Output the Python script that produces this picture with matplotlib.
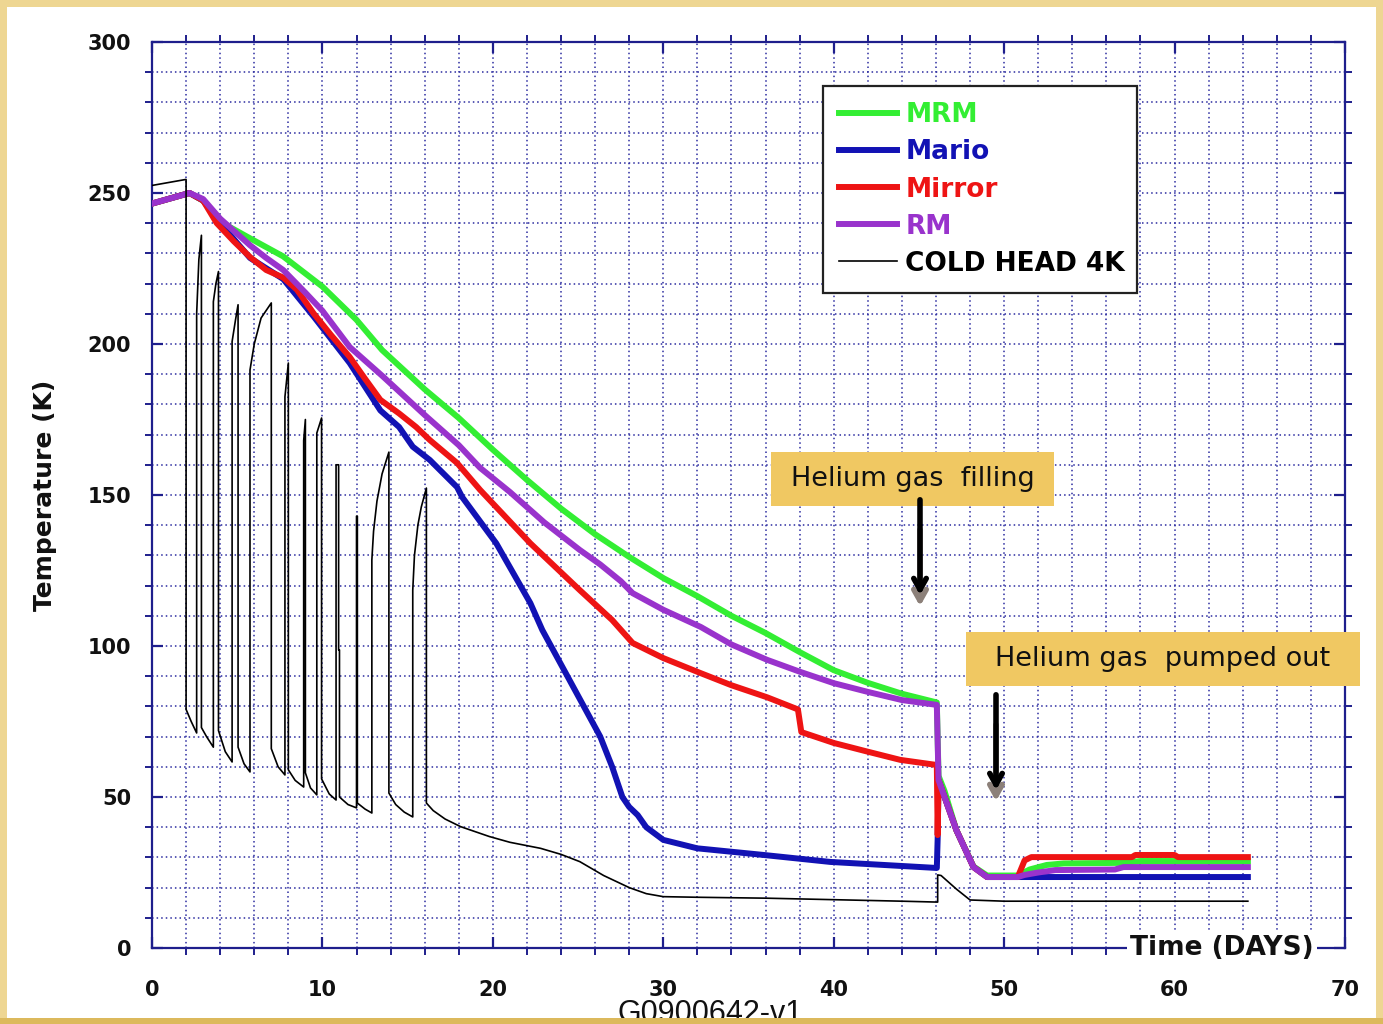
import matplotlib.pyplot as plt
from matplotlib.patches import Rectangle
from matplotlib.ticker import MultipleLocator

# cool-down curves, days vs temperature (K)
mrm_day = [0, 2.2, 3, 4, 5.75, 7.7, 10, 12, 13.5, 16, 18, 20, 22, 24, 26, 28, 30, 32, 34, 36,
           38, 40, 42, 44, 46.05, 46.15, 46.5, 47.2, 48.2, 49, 50.8, 51.5, 52.5, 53.5, 57, 58, 64.3]
mrm_T = [246.5, 250, 247.5, 240.5, 235, 229, 219, 208, 198, 185, 175.5, 165, 155, 145.5, 137,
         129.5, 122.5, 116.5, 110, 104.3, 98, 92, 87.8, 84.2, 81.3, 57, 52, 39, 27, 24, 24, 26,
         27.5, 28, 28.2, 28.8, 28.8]

mario_day = [0, 2.2, 3, 4, 5.75, 7.7, 9.5, 11.6, 13.4, 14.5, 15.3, 16.3, 17.9, 18.2, 20.2, 22.2,
             22.9, 24.5, 26.3, 27, 27.6, 28, 28.5, 29, 30, 32, 35.9, 39.8, 46.05, 46.1, 46.15,
             47.2, 48.2, 49, 50.8, 64.3]
mario_T = [246.5, 250, 247.5, 240, 228.5, 221.5, 209, 193.7, 178, 172.5, 166, 161.6, 152.6, 149.3,
           134, 114.2, 105.3, 88.7, 70, 60, 50, 46.7, 44, 40, 35.8, 33, 30.8, 28.5, 26.5, 36.4,
           55.6, 39, 26.8, 23.5, 23.5, 23.5]

mirror_day = [0, 2.2, 3, 3.8, 4.8, 5.75, 6.7, 7.7, 8.5, 9.5, 10.5, 11.6, 12.5, 13.4, 14.5, 15.5,
              16.3, 17.9, 19.25, 22.2, 25.1, 27, 28.2, 30, 32.2, 34, 36.1, 37.9, 38.1, 40, 42,
              43.9, 46.05, 46.1, 46.15, 47.2, 48.2, 49, 50.8, 51.2, 51.6, 57.5, 57.7, 60, 60.2, 64.3]
mirror_T = [246.5, 250, 247.5, 240, 234, 228.8, 224.5, 222, 218, 210, 203, 195.7, 188.5, 181.5,
            177, 172.5, 168.2, 160.6, 151.7, 134, 118.5, 108.6, 101, 96, 91, 87, 83, 79, 71.5,
            67.9, 65, 62.3, 60.6, 37.4, 55.6, 39, 26.8, 23.5, 23.5, 29, 30.1, 30.1, 30.8, 30.8,
            30.1, 30.1]

rm_day = [0, 2.2, 3, 4, 5.75, 6.7, 7.7, 9, 10, 11.6, 13.5, 16, 18, 19.25, 21, 23, 25.1, 26.3,
          27.5, 28.2, 30, 32.2, 34, 36.1, 38, 40, 42, 44, 46.05, 46.15, 47.2, 48.2, 49, 50.8,
          51.2, 52, 53, 56.5, 57, 64.3]
rm_T = [246.5, 250, 248, 241.5, 232.7, 228.5, 224.5, 217, 211, 199, 189.5, 176.5, 166.5, 159,
        151, 141, 131.8, 127, 121.5, 117.5, 112, 106.3, 100.5, 95.4, 91.5, 87.7, 84.8, 82.1, 80.5,
        55.6, 39, 26.8, 23.5, 23.5, 24.2, 25, 25.8, 26, 26.8, 26.8]

cold_day = [0, 1.0, 2.0, 2.0, 2.3, 2.62, 2.62, 2.75, 2.9, 2.9, 3.2, 3.6, 3.6, 3.75, 3.9, 3.9, 4.3,
            4.7, 4.7, 4.9, 5.05, 5.05, 5.4, 5.75, 5.75, 6.0, 6.4, 7.0, 7.0, 7.4, 7.8, 7.8, 8.0,
            8.0, 8.4, 8.9, 8.9, 9.0, 9.0, 9.3, 9.67, 9.67, 9.95, 9.95, 10.4, 10.8, 10.8, 10.95,
            10.95, 11.0, 11.0, 11.5, 12.0, 12.0, 12.05, 12.05, 12.5, 12.9, 12.9, 13.0, 13.2, 13.5,
            13.9, 13.9, 14.3, 14.8, 15.3, 15.3, 15.4, 15.6, 15.8, 16.1, 16.1, 16.5, 17.2, 18.1,
            19.8, 21, 22.8, 24, 25.1, 26.5, 28, 29, 30, 32, 36, 40, 44, 46.1, 46.1, 46.3, 47.2,
            48, 50, 55, 60, 64.3]
cold_T = [252.5, 253.5, 254.5, 79, 75, 71.2, 210, 228, 236, 73, 70, 66.5, 214, 220, 224, 72, 65,
          61.6, 200.8, 208, 213, 66.5, 61, 58.3, 191.4, 200, 208.6, 213.6, 66, 60, 57.3, 182.5,
          193.7, 59, 55.5, 53.3, 168, 175, 58, 53, 50.7, 170.5, 175.5, 56, 51, 49, 160, 160, 98.7,
          98.7, 50, 47.5, 46.4, 143, 143, 48, 46, 44.7, 128.5, 138, 148, 157, 164.2, 51.3, 47.5,
          45, 43.4, 118.5, 130, 140, 146, 152.3, 48, 45.5, 42.7, 40.2, 36.9, 35, 33, 31, 28.6,
          24, 20, 18, 17, 16.8, 16.5, 16, 15.5, 15.2, 24.2, 24, 19.5, 15.9, 15.5, 15.5, 15.5, 15.5]

series = [
    ("MRM", mrm_day, mrm_T, "#33ee33", 4.3),
    ("Mario", mario_day, mario_T, "#1212b4", 4.3),
    ("Mirror", mirror_day, mirror_T, "#ee1414", 4.3),
    ("RM", rm_day, rm_T, "#9933cc", 4.3),
    ("COLD HEAD 4K", cold_day, cold_T, "black", 1.2),
]

x_ticks = [0, 10, 20, 30, 40, 50, 60, 70]
y_ticks = [0, 50, 100, 150, 200, 250, 300]

W, H = 1383, 1024
def fx(px):
    return px / W
def fy(py):
    return 1 - py / H

axis_color = "#1e1e8c"
grid_color = "#2c2ca0"
gold = "#eed692"
box_color = "#f0c862"

fig = plt.figure(figsize=(W / 100, H / 100), dpi=100, facecolor=gold)
# white slide area
fig.add_artist(Rectangle((fx(7), fy(1018)), fx(1376) - fx(7), fy(7) - fy(1018),
                         transform=fig.transFigure, facecolor="white", edgecolor="none", zorder=-5))

ax = fig.add_axes([fx(152), fy(948), fx(1345) - fx(152), fy(42) - fy(948)])
ax.set_facecolor("white")

for name, d, t, c, lw in series:
    ax.plot(d, t, color=c, lw=lw, label=name, solid_joinstyle="round", zorder=3)

ax.set_xlim(0, 70)
ax.set_ylim(0, 300)
ax.set_xticks(x_ticks)
ax.set_yticks(y_ticks)
ax.xaxis.set_minor_locator(MultipleLocator(2))
ax.yaxis.set_minor_locator(MultipleLocator(10))
ax.grid(which="both", color=grid_color, linestyle=(0, (1, 2)), lw=1.1, zorder=1)
ax.set_axisbelow(True)

for s in ax.spines.values():
    s.set_color(axis_color)
    s.set_linewidth(1.6)

ax.tick_params(which="major", direction="in", length=8, width=1.6, color=axis_color,
               top=True, right=True, labelsize=15)
ax.tick_params(which="minor", direction="out", length=5, width=1.4, color=axis_color,
               top=True, right=True)
ax.tick_params(axis="x", which="major", pad=23)
ax.tick_params(axis="y", which="major", pad=15)
for lab in ax.get_xticklabels() + ax.get_yticklabels():
    lab.set_fontweight("bold")
    lab.set_color("#111111")

ax.set_ylabel("Temperature (K)", fontsize=18, fontweight="bold", labelpad=22, color="#111111")

# axis title sitting on the bottom spine
ax.text(0.897, 0.0, "Time (DAYS)", transform=ax.transAxes, ha="center", va="center",
        fontsize=19, fontweight="bold", color="#111111", zorder=6, clip_on=False,
        bbox=dict(facecolor="white", edgecolor="none", pad=2))

leg = ax.legend(loc="upper left", bbox_to_anchor=(fx(823), fy(86) - 0.2, fx(1137) - fx(823), 0.2),
                bbox_transform=fig.transFigure, mode="expand", borderaxespad=0, fancybox=False,
                edgecolor="#222222", framealpha=1, prop=dict(weight="bold", size=19),
                labelcolor="linecolor", handlelength=2.2, handletextpad=0.3, labelspacing=0.42,
                borderpad=0.62)
leg.get_frame().set_linewidth(1.6)
leg.set_zorder(7)

# annotation boxes and arrows
notes = [("Helium gas  filling", 771, 452, 1054, 506, 920, 497, 598),
         ("Helium gas  pumped out", 966, 632, 1360, 686, 996, 692, 793)]
for txt, x0, y0, x1, y1, ax_x, a_top, a_tip in notes:
    fig.add_artist(Rectangle((fx(x0), fy(y1)), fx(x1) - fx(x0), fy(y0) - fy(y1),
                             transform=fig.transFigure, facecolor=box_color, edgecolor="none",
                             zorder=8))
    fig.text(fx((x0 + x1) / 2), fy((y0 + y1) / 2), txt, ha="center", va="center",
             fontsize=19.5, color="#111111", zorder=9)
    fig.add_artist(plt.Annotation("", xy=(fx(ax_x), fy(a_tip + 11)), xytext=(fx(ax_x), fy(a_top + 30)),
                                  xycoords="figure fraction", textcoords="figure fraction",
                                  arrowprops=dict(arrowstyle="->,head_width=0.45,head_length=0.8",
                                                  color="#8c8079", lw=4), zorder=9))
    fig.add_artist(plt.Annotation("", xy=(fx(ax_x), fy(a_tip)), xytext=(fx(ax_x), fy(a_top)),
                                  xycoords="figure fraction", textcoords="figure fraction",
                                  arrowprops=dict(arrowstyle="->,head_width=0.45,head_length=0.8",
                                                  color="black", lw=4), zorder=10))

# document number, partly hidden by the bottom border as on the slide
fig.text(fx(710), fy(999), "G0900642-v1", ha="center", va="top", fontsize=22,
         family="Liberation Sans", color="#111111", zorder=11)
fig.add_artist(Rectangle((0, 0), 1, fy(1018), transform=fig.transFigure,
                         facecolor="#dcb95c", edgecolor="none", zorder=12))

fig.savefig("out.png", dpi=100, facecolor=fig.get_facecolor())
